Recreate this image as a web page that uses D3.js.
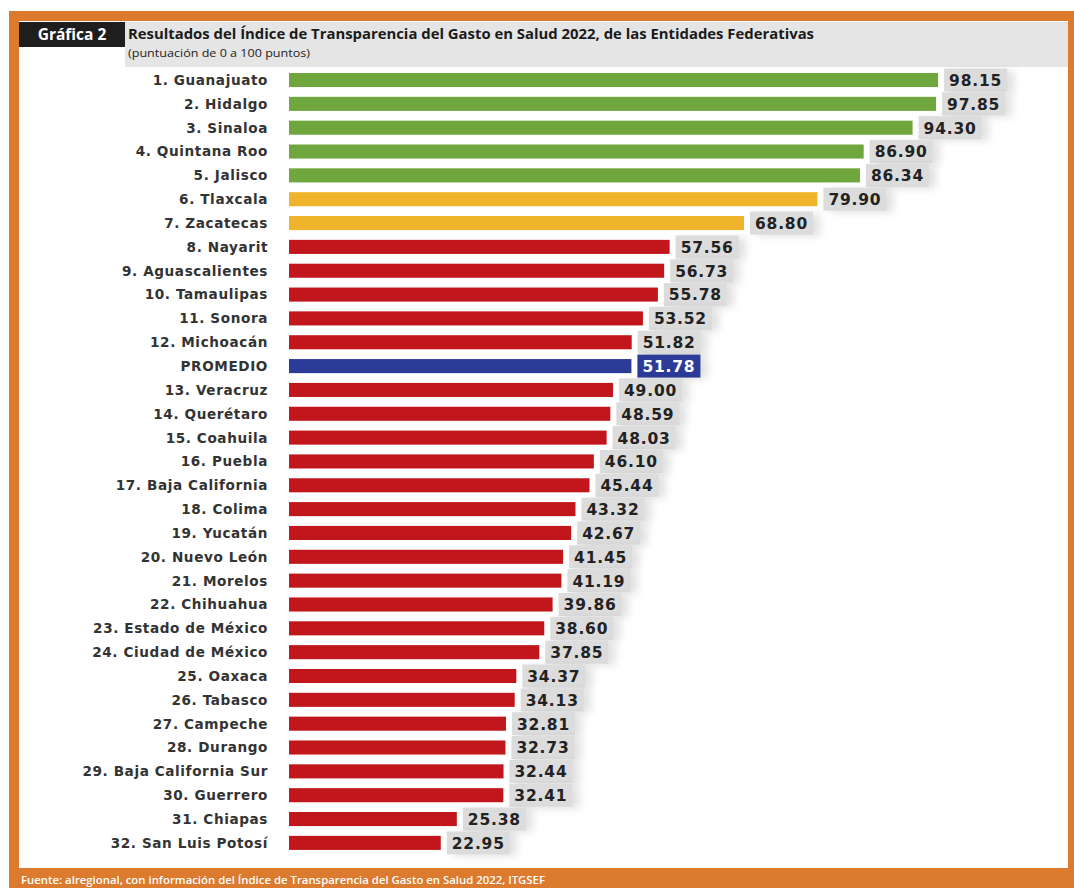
<!DOCTYPE html>
<html>
<head>
<meta charset="utf-8">
<script src="https://cdn.jsdelivr.net/npm/d3@7"></script>
<style>
  body { margin: 0; background: #fff; }
  svg { display: block; }
</style>
</head>
<body>
<script>
// data
const entidades = [
  "1. Guanajuato", "2. Hidalgo", "3. Sinaloa", "4. Quintana Roo", "5. Jalisco",
  "6. Tlaxcala", "7. Zacatecas", "8. Nayarit", "9. Aguascalientes", "10. Tamaulipas",
  "11. Sonora", "12. Michoacán", "PROMEDIO", "13. Veracruz", "14. Querétaro",
  "15. Coahuila", "16. Puebla", "17. Baja California", "18. Colima", "19. Yucatán",
  "20. Nuevo León", "21. Morelos", "22. Chihuahua", "23. Estado de México",
  "24. Ciudad de México", "25. Oaxaca", "26. Tabasco", "27. Campeche", "28. Durango",
  "29. Baja California Sur", "30. Guerrero", "31. Chiapas", "32. San Luis Potosí"
];
const puntos = [
  98.15, 97.85, 94.30, 86.90, 86.34,
  79.90, 68.80, 57.56, 56.73, 55.78,
  53.52, 51.82, 51.78, 49.00, 48.59,
  48.03, 46.10, 45.44, 43.32, 42.67,
  41.45, 41.19, 39.86, 38.60,
  37.85, 34.37, 34.13, 32.81, 32.73,
  32.44, 32.41, 25.38, 22.95
];
const grupo = [
  "alto", "alto", "alto", "alto", "alto",
  "medio", "medio", "bajo", "bajo", "bajo",
  "bajo", "bajo", "promedio", "bajo", "bajo",
  "bajo", "bajo", "bajo", "bajo", "bajo",
  "bajo", "bajo", "bajo", "bajo",
  "bajo", "bajo", "bajo", "bajo", "bajo",
  "bajo", "bajo", "bajo", "bajo"
];

const data = entidades.map((e, i) => ({ name: e, value: puntos[i], group: grupo[i] }));

const W = 1074, H = 888;
const orange = "#dc7a2e";

const svg = d3.select("body").append("svg")
  .attr("width", W)
  .attr("height", H);

const defs = svg.append("defs");
const shadow = defs.append("filter").attr("id", "sombra")
  .attr("x", "-20%").attr("y", "-50%").attr("width", "160%").attr("height", "200%");
shadow.append("feGaussianBlur").attr("stdDeviation", 4);

// frame
svg.append("rect").attr("x", 9).attr("y", 11).attr("width", W - 9).attr("height", H - 11)
  .attr("fill", orange);
svg.append("rect").attr("x", 19).attr("y", 21).attr("width", 1049).attr("height", 847)
  .attr("fill", "#fff");

// header
svg.append("rect").attr("x", 125).attr("y", 22).attr("width", 943).attr("height", 45)
  .attr("fill", "#e5e5e5");
svg.append("rect").attr("x", 19).attr("y", 22).attr("width", 106).attr("height", 25)
  .attr("fill", "#1e1e1e");
svg.append("text").attr("x", 72).attr("y", 40)
  .attr("text-anchor", "middle")
  .attr("font-family", "Open Sans, sans-serif").attr("font-weight", "bold")
  .attr("font-size", 15.5).attr("fill", "#fff")
  .text("Gráfica 2");
svg.append("text").attr("x", 128).attr("y", 39)
  .attr("font-family", "Open Sans, sans-serif").attr("font-weight", "bold")
  .attr("font-size", 14.5).attr("fill", "#1a1a1a")
  .attr("textLength", 686).attr("lengthAdjust", "spacingAndGlyphs")
  .text("Resultados del Índice de Transparencia del Gasto en Salud 2022, de las Entidades Federativas");
svg.append("text").attr("x", 128).attr("y", 57)
  .attr("font-family", "Open Sans, sans-serif")
  .attr("font-size", 11).attr("fill", "#222")
  .attr("textLength", 182).attr("lengthAdjust", "spacingAndGlyphs")
  .text("(puntuación de 0 a 100 puntos)");

// footer
svg.append("text").attr("x", 21).attr("y", 884)
  .attr("font-family", "Open Sans, sans-serif").attr("font-weight", 600)
  .attr("font-size", 11).attr("fill", "#fff")
  .attr("textLength", 524).attr("lengthAdjust", "spacingAndGlyphs")
  .text("Fuente: alregional, con información del Índice de Transparencia  del  Gasto en Salud 2022, ITGSEF");

// scales
const x = d3.scaleLinear().domain([0, 100]).range([289, 289 + 661.3]);
const y = d3.scaleBand()
  .domain(entidades)
  .range([68.1, 854.8])
  .paddingInner(0.41)
  .paddingOuter(0.205);

const colorScale = d3.scaleOrdinal()
  .domain(["alto", "medio", "bajo", "promedio"])
  .range(["#6fa63d", "#efb42b", "#c1161b", "#2c3b98"]);

const rows = svg.append("g").selectAll("g")
  .data(data)
  .enter()
  .append("g")
  .attr("transform", d => `translate(0, ${y(d.name) + y.bandwidth() / 2})`);

rows.append("text")
  .attr("x", 268)
  .attr("dy", "0.36em")
  .attr("text-anchor", "end")
  .attr("font-family", "DejaVu Sans, sans-serif").attr("font-weight", "bold")
  .attr("font-size", 13.6).attr("letter-spacing", 0.6)
  .attr("fill", "#333")
  .text(d => d.name);

rows.append("rect")
  .attr("x", x(0))
  .attr("y", -y.bandwidth() / 2)
  .attr("width", d => x(d.value) - x(0))
  .attr("height", y.bandwidth())
  .attr("fill", d => colorScale(d.group));

// label boxes with a soft shadow
rows.append("rect")
  .attr("x", d => x(d.value) + 12)
  .attr("y", -9)
  .attr("width", 64)
  .attr("height", 22)
  .attr("fill", "#000")
  .attr("opacity", 0.12)
  .attr("filter", "url(#sombra)");

rows.append("rect")
  .attr("x", d => x(d.value) + 6)
  .attr("y", -11.5)
  .attr("width", 63)
  .attr("height", 23)
  .attr("fill", d => d.group === "promedio" ? "#2c3b98" : "#dcdcdc");

rows.append("text")
  .attr("x", d => x(d.value) + 11)
  .attr("dy", "0.38em")
  .attr("font-family", "DejaVu Sans, sans-serif").attr("font-weight", "bold")
  .attr("font-size", 15.5).attr("letter-spacing", 0.8)
  .attr("fill", d => d.group === "promedio" ? "#fff" : "#222")
  .text(d => d.value.toFixed(2));
</script>
</body>
</html>
